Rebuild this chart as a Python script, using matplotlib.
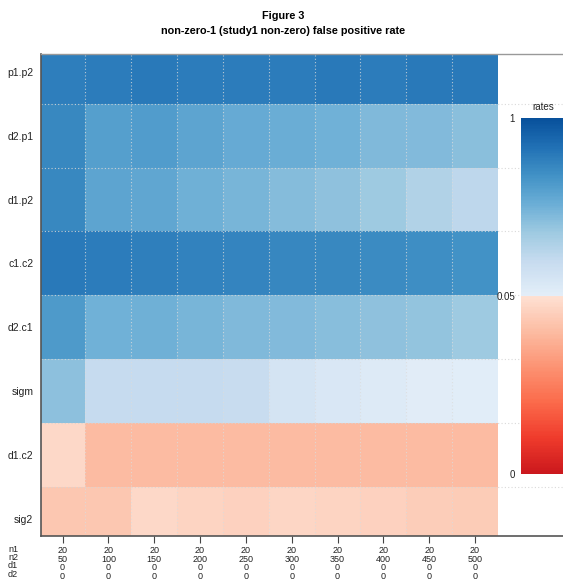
import numpy as np
import matplotlib
matplotlib.use("Agg")
import matplotlib.pyplot as plt
from matplotlib.colors import LinearSegmentedColormap, TwoSlopeNorm
import matplotlib.cm as cm

plt.rcParams['font.family'] = ['Liberation Sans', 'DejaVu Sans']

# ---- data ----
row_labels = ["p1.p2", "d2.p1", "d1.p2", "c1.c2", "d2.c1", "sigm", "d1.c2", "sig2"]
n1 = [20, 20, 20, 20, 20, 20, 20, 20, 20, 20]
n2 = [50, 100, 150, 200, 250, 300, 350, 400, 450, 500]
d1 = [0, 0, 0, 0, 0, 0, 0, 0, 0, 0]
d2 = [0, 0, 0, 0, 0, 0, 0, 0, 0, 0]

rate_p1p2 = [0.78, 0.79, 0.80, 0.79, 0.79, 0.79, 0.80, 0.79, 0.80, 0.80]
rate_d2p1 = [0.74, 0.62, 0.63, 0.59, 0.56, 0.54, 0.52, 0.48, 0.47, 0.45]
rate_d1p2 = [0.74, 0.585, 0.58, 0.53, 0.50, 0.46, 0.43, 0.39, 0.31, 0.27]
rate_c1c2 = [0.80, 0.79, 0.77, 0.76, 0.75, 0.745, 0.74, 0.72, 0.71, 0.69]
rate_d2c1 = [0.65, 0.52, 0.525, 0.50, 0.48, 0.47, 0.455, 0.43, 0.42, 0.39]
rate_sigm = [0.44, 0.23, 0.23, 0.23, 0.225, 0.15, 0.11, 0.09, 0.07, 0.06]
rate_d1c2 = [0.048, 0.040, 0.040, 0.040, 0.040, 0.040, 0.040, 0.040, 0.040, 0.040]
rate_sig2 = [0.043, 0.043, 0.048, 0.0468, 0.046, 0.047, 0.0468, 0.046, 0.0446, 0.0445]

cb_ticks = [0, 0.05, 1]
cb_ticklabels = ["0", "0.05", "1"]

data = np.array([rate_p1p2, rate_d2p1, rate_d1p2, rate_c1c2,
                 rate_d2c1, rate_sigm, rate_d1c2, rate_sig2])

# ---- colormap: reds below 0.05, blues above ----
reds = plt.get_cmap('Reds')
blues = plt.get_cmap('Blues')
lo = [reds(s) for s in np.linspace(0.75, 0.125, 128)]
hi = [blues(s) for s in np.linspace(0.1, 0.875, 128)]
cmap = LinearSegmentedColormap.from_list('rb', lo + hi, N=256)
norm = TwoSlopeNorm(vmin=0, vcenter=0.05, vmax=1)

fig = plt.figure(figsize=(5.63, 5.83), dpi=100)
W, H = 563, 583
ax = fig.add_axes([41 / W, 1 - 536 / H, 1 - 41 / W, (536 - 54) / H])

nr, nc = data.shape
im = ax.imshow(data, cmap=cmap, norm=norm, aspect='auto',
               extent=(-0.5, nc - 0.5, nr - 0.5, -0.5), interpolation='nearest')
ax.set_xlim(-0.47, 10.92)
ax.set_ylim(7.27, -0.28)

# grid
for xv in np.arange(0.5, nc - 0.5, 1):
    ax.axvline(xv, ymin=0, ymax=1, color='#dcdcdc', lw=0.8, ls=(0, (1, 2)), alpha=0.8)
for yv in np.arange(0.5, nr - 0.5, 1):
    ax.axhline(yv, color='#d5d5d5', lw=0.8, ls=(0, (1, 2)), alpha=0.9)

ax.set_yticks(range(nr))
ax.set_yticklabels(row_labels, fontsize=7.5, color='#222222')
ax.tick_params(axis='y', length=0, pad=5.5)

xlabels = [f"{a}\n{b}\n{c}\n{d}" for a, b, c, d in zip(n1, n2, d1, d2)]
ax.set_xticks(range(nc))
ax.set_xticklabels(xlabels, fontsize=6.5, linespacing=0.92, color='#222222')
ax.tick_params(axis='x', length=5, width=0.8, color='#444444', pad=2.5)

fig.text(8 / W, 1 - 544.5 / H, "n1\nn2\nd1\nd2", fontsize=6.5,
         linespacing=0.92, ha='left', va='top', color='#222222')

for side in ['left', 'bottom']:
    ax.spines[side].set_color('#555555')
    ax.spines[side].set_linewidth(1.2)
ax.spines['top'].set_color('#999999')
ax.spines['top'].set_linewidth(1.0)
ax.spines['right'].set_visible(False)

# title
fig.text(283 / W, 1 - 16 / H, "Figure 3", ha='center', va='center',
         fontsize=7.8, fontweight='bold')
fig.text(283 / W, 1 - 31 / H, "non-zero-1 (study1 non-zero) false positive rate",
         ha='center', va='center', fontsize=7.8, fontweight='bold')

# colorbar
cax = fig.add_axes([520.5 / W, 1 - 474 / H, (563 - 520.5) / W, (474 - 118) / H])
cb = fig.colorbar(cm.ScalarMappable(norm=norm, cmap=cmap), cax=cax, ticks=cb_ticks)
cb.outline.set_visible(False)
cax.yaxis.set_ticks_position('left')
cax.set_yticklabels(cb_ticklabels, fontsize=7, color='#222222')
cax.tick_params(length=0, pad=4)
fig.text(543 / W, 1 - 107 / H, "rates", ha='center', va='center', fontsize=7,
         color='#222222')

fig.savefig("out.png", dpi=100)
